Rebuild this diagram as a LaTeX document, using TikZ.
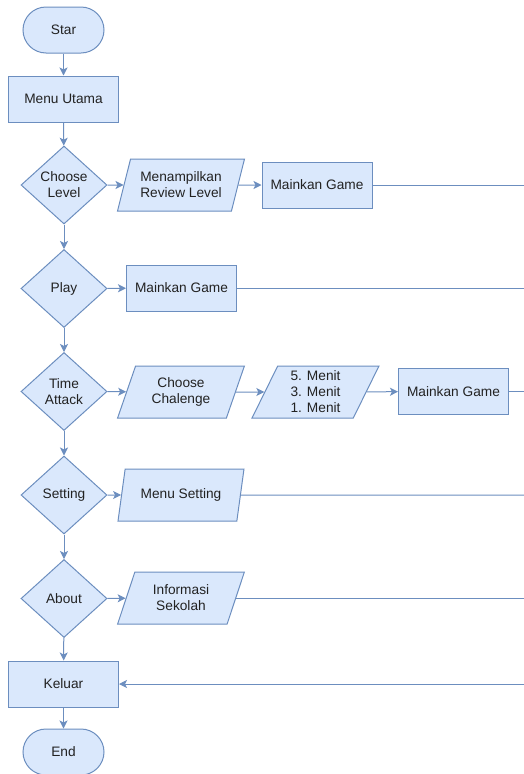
\documentclass[tikz,border=0pt]{standalone}
\usepackage{fontspec}
\setmainfont{Liberation Sans}
\usetikzlibrary{shapes.geometric,arrows.meta}
\definecolor{boxfill}{HTML}{DAE8FC}
\definecolor{boxline}{HTML}{6C8EBF}
\definecolor{inktext}{HTML}{222222}
\tikzset{
    base/.style={draw=boxline,fill=boxfill,line width=1pt,text=inktext,
        font=\fontsize{13.7}{16}\selectfont,align=center,inner sep=0pt},
    terminal/.style={base,rectangle,rounded corners=23pt,minimum width=81pt,minimum height=46pt},
    process/.style={base,rectangle,minimum width=110pt,minimum height=46pt},
    decision/.style={base,diamond,minimum width=86pt,minimum height=78pt},
    io/.style={base,trapezium,trapezium left angle=68,trapezium right angle=112,
        trapezium stretches=true,minimum width=127pt,minimum height=52pt},
    flow/.style={draw=boxline,line width=1pt,-{Stealth[length=8pt,width=8pt,inset=2pt]}},
    plain/.style={draw=boxline,line width=1pt}
}
\begin{document}
\begin{tikzpicture}[x=1pt,y=-1pt]
    \useasboundingbox (0,0) rectangle (524,774);
    % main column
    \node[terminal] (star) at (63.5,30) {Star};
    \node[process] (menu) at (63.5,99) {Menu Utama};
    \node[decision] (level) at (64,185) {Choose\\Level};
    \node[decision] (play) at (64,288.5) {Play};
    \node[decision] (time) at (64,391.5) {Time\\Attack};
    \node[decision] (setting) at (64,495) {Setting};
    \node[decision] (about) at (64,598.5) {About};
    \node[process] (keluar) at (63.5,684) {Keluar};
    \node[terminal] (end) at (63.5,752) {End};
    % branches
    \node[io] (review) at (181,185) {Menampilkan\\Review Level};
    \node[process] (game1) at (317,185) {Mainkan Game};
    \node[process] (game2) at (181.5,288) {Mainkan Game};
    \node[io] (chalenge) at (181,392) {Choose\\Chalenge};
    \node[io] (menit) at (315.5,392) {5. Menit\\3. Menit\\1. Menit};
    \node[process] (game3) at (453.5,391.5) {Mainkan Game};
    \node[io] (msetting) at (181,495) {Menu Setting};
    \node[io] (info) at (181,598) {Informasi\\Sekolah};
    % right edge
    \coordinate (r1) at (524,185);
    \coordinate (r2) at (524,288);
    \coordinate (r3) at (524,391.5);
    \coordinate (r4) at (524,495);
    \coordinate (r5) at (524,598);
    \coordinate (r6) at (524,684);
    % connectors
    \draw[flow] (star) -- (menu);
    \draw[flow] (menu) -- (level);
    \draw[flow] (level) -- (play);
    \draw[flow] (play) -- (time);
    \draw[flow] (time) -- (setting);
    \draw[flow] (setting) -- (about);
    \draw[flow] (about) -- (keluar);
    \draw[flow] (keluar) -- (end);
    \draw[flow] (level) -- (review);
    \draw[flow] (review) -- (game1);
    \draw[plain] (game1) -- (r1);
    \draw[flow] (play) -- (game2);
    \draw[plain] (game2) -- (r2);
    \draw[flow] (time) -- (chalenge);
    \draw[flow] (chalenge) -- (menit);
    \draw[flow] (menit) -- (game3);
    \draw[plain] (game3) -- (r3);
    \draw[flow] (setting) -- (msetting);
    \draw[plain] (msetting) -- (r4);
    \draw[flow] (about) -- (info);
    \draw[plain] (info) -- (r5);
    \draw[flow] (r6) -- (keluar);
\end{tikzpicture}
\end{document}
